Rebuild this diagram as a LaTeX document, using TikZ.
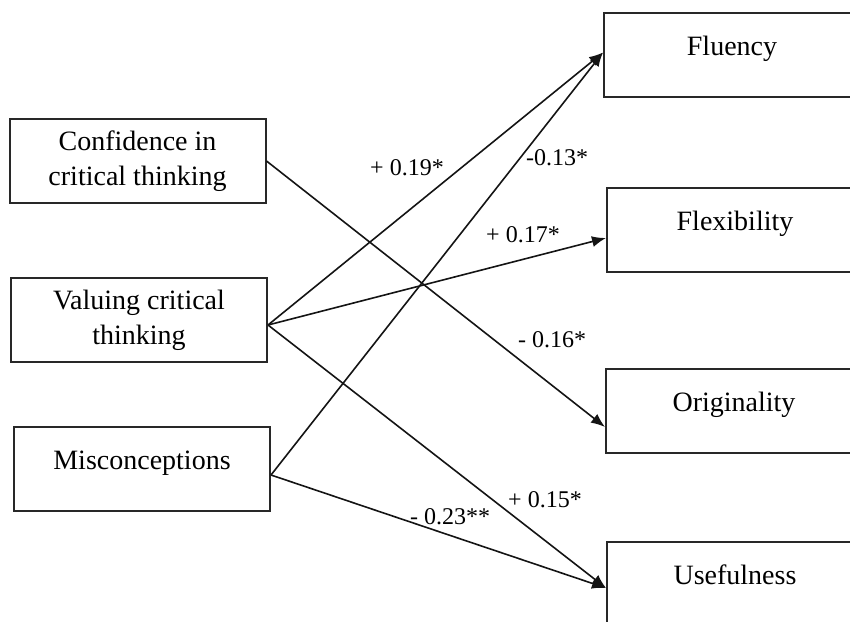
\documentclass[tikz,border=0pt]{standalone}
\usepackage{fontspec}
\setmainfont{Liberation Serif}
\usepackage{tikz}
\usetikzlibrary{arrows.meta,calc,positioning}
\definecolor{boxline}{RGB}{40,40,40}
\definecolor{pathline}{RGB}{20,20,20}
\tikzset{
  factor/.style={rectangle,draw=boxline,line width=1pt,fill=white,
    minimum width=128pt,minimum height=42pt,inner sep=0pt,
    align=center,font=\fontsize{14}{17.5}\selectfont},
  oneline/.style={text height=10pt,text depth=9.5pt},
  path/.style={-{Latex[length=7pt,width=5.5pt]},line width=0.8pt,draw=pathline},
  coef/.style={font=\fontsize{12}{14}\selectfont,inner sep=1pt}
}
\begin{document}
\begin{tikzpicture}[x=0.5pt,y=-0.5pt]
  \useasboundingbox (0,0) rectangle (850,621);
  % predictors
  \node[factor] (conf) at (137.5,161) {Confidence in\\critical thinking};
  \node[factor] (val) at (139,320) {Valuing critical\\thinking};
  \node[factor,oneline] (mis) at (142,469) {Misconceptions};
  % outcomes
  \node[factor,oneline] (flu) at (732,54.5) {Fluency};
  \node[factor,oneline] (flex) at (735,230) {Flexibility};
  \node[factor,oneline] (ori) at (734,411) {Originality};
  \node[factor,oneline] (use) at (735,584) {Usefulness};
  % paths
  \draw[path] (conf.east) -- ([yshift=-8pt]ori.west);
  \draw[path] ([yshift=-2.5pt]val.east) -- ([yshift=1pt]flu.west);
  \draw[path] ([yshift=-2.5pt]val.east) -- ([yshift=-4pt]flex.west);
  \draw[path] ([yshift=-2.5pt]val.east) -- ([yshift=-2pt]use.west);
  \draw[path] ([yshift=-3pt]mis.east) -- ([yshift=1pt]flu.west);
  \draw[path] ([yshift=-3pt]mis.east) -- ([yshift=-2pt]use.west);
  % coefficients
  \node[coef] (c019) at (407,168) {+ 0.19*};
  \node[coef] (c013) at (557,158) {-0.13*};
  \node[coef] (c017) at (523,235) {+ 0.17*};
  \node[coef] (c016) at (552,340) {- 0.16*};
  \node[coef] (c015) at (545,500) {+ 0.15*};
  \node[coef] (c023) at (450,517) {- 0.23**};
\end{tikzpicture}
\end{document}
